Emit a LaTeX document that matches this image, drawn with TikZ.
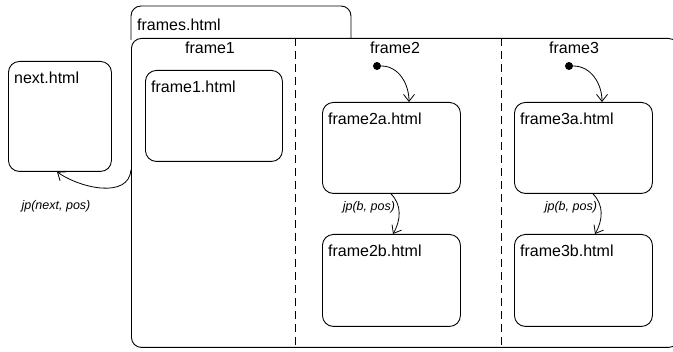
\documentclass[tikz,border=0pt]{standalone}
\usepackage{fontspec}
\setmainfont{Liberation Sans}
\usetikzlibrary{arrows.meta,positioning}

\tikzset{
  state/.style={draw,rounded corners=11pt,line width=0.9pt,anchor=north west,inner sep=0pt},
  title/.style={anchor=north west,inner sep=0pt,font=\fontsize{16}{19}\selectfont},
  region/.style={font=\fontsize{16}{19}\selectfont,anchor=north,inner sep=0pt},
  lbl/.style={font=\fontsize{12.5}{15}\selectfont\itshape,inner sep=0pt},
  initial/.style={circle,fill,inner sep=0pt,minimum size=8pt},
  trans/.style={line width=0.8pt,-{Straight Barb[length=7pt,width=11pt]}},
  sep/.style={line width=0.9pt,dash pattern=on 8pt off 5pt}
}

\begin{document}
\begin{tikzpicture}[x=1pt,y=-1pt]
        \useasboundingbox (0,0) rectangle (673,352);
        % composite state frames.html
        \draw[line width=0.9pt,rounded corners=10pt] (131,40) |- (351,6) -- (351,38);
        \node[title] at (137,19) {frames.html};
        \node[state,rounded corners=10pt,minimum width=547pt,minimum height=309pt] (frames) at (131,38) {};
        \draw[sep] (295,38) -- (295,347) (501,38) -- (501,347);
        \node[region] (r1) at (210,42) {frame1};
        \node[region] (r2) at (395,42) {frame2};
        \node[region] (r3) at (574,42) {frame3};
        % states
        \node[state,minimum width=103pt,minimum height=110pt] (next) at (8,61) {};
        \node[state,minimum width=137pt,minimum height=91pt] (f1) at (145,70) {};
        \node[state,minimum width=138pt,minimum height=91pt] (f2a) at (322,102) {};
        \node[state,minimum width=138pt,minimum height=92pt] (f2b) at (322,234) {};
        \node[state,minimum width=138pt,minimum height=91pt] (f3a) at (514,102) {};
        \node[state,minimum width=138pt,minimum height=92pt] (f3b) at (514,234) {};
        \foreach \s/\t in {next/next.html,f1/frame1.html,f2a/frame2a.html,
                           f2b/frame2b.html,f3a/frame3a.html,f3b/frame3b.html} {
          \node[title] at ([xshift=6pt,yshift=-11pt]\s.north west) {\t};
        }
        % initial states
        \node[initial] (i2) at (377,66) {};
        \node[initial] (i3) at (569,66) {};
        \draw[trans] (i2) to[out=0,in=90] ([xshift=87pt]f2a.north west);
        \draw[trans] (i3) to[out=0,in=90] ([xshift=88pt]f3a.north west);
        % transitions
        \draw[trans] ([xshift=69pt]f2a.south west) to[out=-45,in=60]
          node[lbl,pos=0.35,left=3pt] {jp(b, pos)} ([xshift=71pt]f2b.north west);
        \draw[trans] ([xshift=79pt]f3a.south west) to[out=-45,in=60]
          node[lbl,pos=0.35,left=3pt] {jp(b, pos)} ([xshift=81pt]f3b.north west);
        \coordinate (jp) at (131,170);
        \draw[trans] (jp) to[out=-95,in=-35] ([xshift=49pt]next.south west);
        \node[lbl] (jpnext) at (56,206) {jp(next, pos)};
\end{tikzpicture}
\end{document}
